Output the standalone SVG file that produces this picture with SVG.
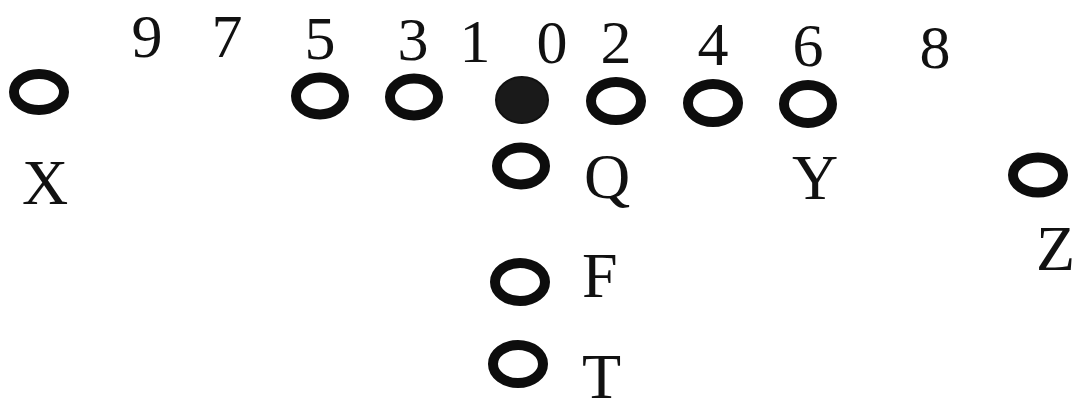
<svg xmlns="http://www.w3.org/2000/svg" width="1078" height="412" viewBox="0 0 1078 412">
<style>
.p{fill:none;stroke:#0d0d0d;stroke-width:10}
.c{fill:#1a1a1a;stroke:#111;stroke-width:2}
.t{font-family:"Liberation Serif","Times New Roman",serif;font-size:64px;fill:#111}
.n{font-family:"Liberation Serif","Times New Roman",serif;font-size:62px;fill:#111;text-anchor:middle}
</style>
<rect width="1078" height="412" fill="#fff"/>
<g id="holes">
<text class="n" x="147" y="57">9</text>
<text class="n" x="227" y="57">7</text>
<text class="n" x="320" y="59">5</text>
<text class="n" x="413" y="60">3</text>
<text class="n" x="475" y="62">1</text>
<text class="n" x="552" y="63">0</text>
<text class="n" x="616" y="63">2</text>
<text class="n" x="713" y="65">4</text>
<text class="n" x="808" y="66">6</text>
<text class="n" x="935" y="68">8</text>
</g>
<g id="X"><ellipse class="p" cx="39" cy="92" rx="25" ry="18"/><text class="t" x="45" y="204" text-anchor="middle">X</text></g>
<g id="L2"><ellipse class="p" cx="320" cy="96" rx="24" ry="18.5"/></g>
<g id="L1"><ellipse class="p" cx="414" cy="97" rx="24" ry="18.5"/></g>
<g id="C"><ellipse class="c" cx="522" cy="100" rx="26" ry="23"/></g>
<g id="R1"><ellipse class="p" cx="616" cy="101" rx="25" ry="19"/></g>
<g id="R2"><ellipse class="p" cx="713" cy="103" rx="25" ry="19"/></g>
<g id="Y"><ellipse class="p" cx="808" cy="104" rx="24" ry="19"/><text class="t" x="815" y="199" text-anchor="middle">Y</text></g>
<g id="Q"><ellipse class="p" cx="521" cy="166" rx="24" ry="18.5"/><text class="t" x="607" y="198" text-anchor="middle">Q</text></g>
<g id="F"><ellipse class="p" cx="520" cy="282" rx="25" ry="19"/><text class="t" x="582" y="297">F</text></g>
<g id="T"><ellipse class="p" cx="518" cy="364" rx="25" ry="19"/><text class="t" x="582" y="398">T</text></g>
<g id="Z"><ellipse class="p" cx="1038" cy="175" rx="25" ry="17.5"/><text class="t" x="1036" y="270">Z</text></g>
<g id="connectors"/>
</svg>
